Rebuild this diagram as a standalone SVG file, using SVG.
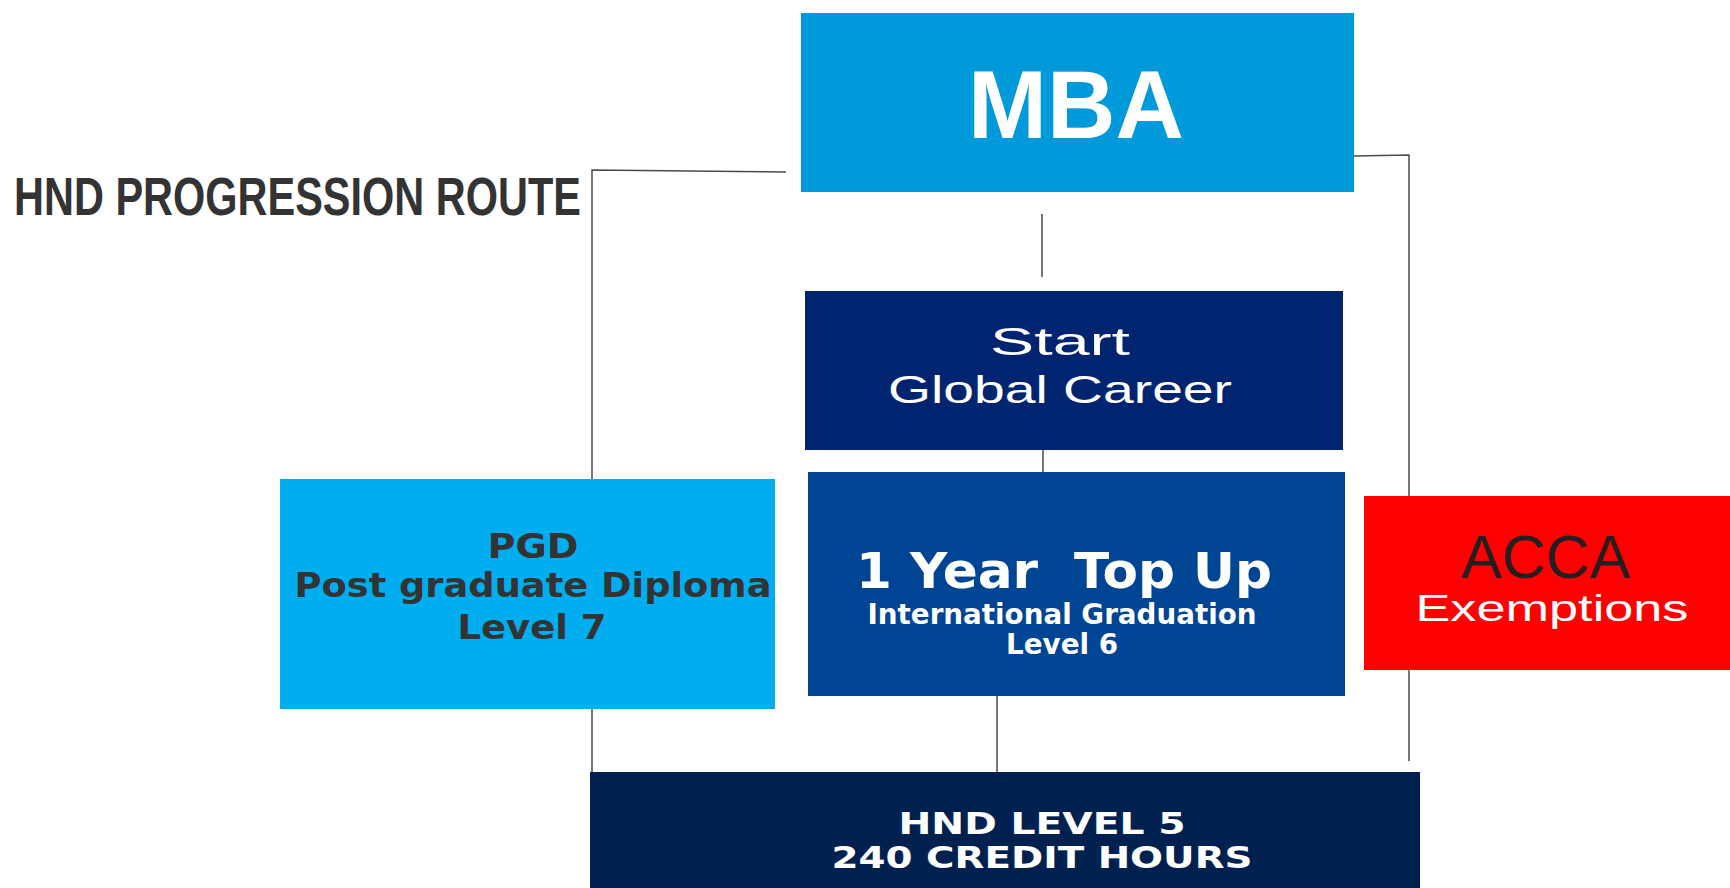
<svg xmlns="http://www.w3.org/2000/svg" width="1730" height="888" viewBox="0 0 1730 888">
<style>
.conn{stroke:#4a4a4a;stroke-width:1.5;fill:none}
.ext{font-family:"DejaVu Sans",sans-serif;font-weight:bold}
.arial{font-family:"Liberation Sans",Arial,sans-serif}
</style>
<rect width="1730" height="888" fill="#ffffff"/>
<text x="14" y="215" class="arial" font-weight="bold" font-size="53" fill="#333333" textLength="567" lengthAdjust="spacingAndGlyphs">HND PROGRESSION ROUTE</text>
<g id="connectors">
<polyline class="conn" points="786,172 592,170 592,795"/>
<polyline class="conn" points="1354,156 1409,155 1409,761"/>
<line class="conn" x1="1042" y1="214" x2="1042" y2="277"/>
<line class="conn" x1="1043" y1="428" x2="1043" y2="493"/>
<line class="conn" x1="997" y1="696" x2="997" y2="772"/>
</g>
<g id="mba">
<rect x="801" y="13" width="553" height="179" fill="#0099DA"/>
<text x="1076" y="138" text-anchor="middle" class="arial" font-weight="bold" font-size="97" fill="#ffffff" textLength="216" lengthAdjust="spacingAndGlyphs">MBA</text>
</g>
<g id="start">
<rect x="805" y="291" width="538" height="159" fill="#002470"/>
<text x="1060" y="355" text-anchor="middle" class="arial" font-size="39" fill="#ffffff" textLength="140" lengthAdjust="spacingAndGlyphs">Start</text>
<text x="1060" y="403" text-anchor="middle" class="arial" font-size="39" fill="#ffffff" textLength="344" lengthAdjust="spacingAndGlyphs">Global Career</text>
</g>
<g id="topup">
<rect x="808" y="472" width="537" height="224" fill="#004494"/>
<text x="1064" y="588" text-anchor="middle" class="ext" font-size="49" fill="#ffffff" textLength="416" lengthAdjust="spacingAndGlyphs" xml:space="preserve" style="white-space:pre">1 Year  Top Up</text>
<text x="1062" y="624" text-anchor="middle" class="ext" font-size="28" fill="#ffffff" textLength="389" lengthAdjust="spacingAndGlyphs">International Graduation</text>
<text x="1062" y="654" text-anchor="middle" class="ext" font-size="28" fill="#ffffff" textLength="112" lengthAdjust="spacingAndGlyphs">Level 6</text>
</g>
<g id="pgd">
<rect x="280" y="479" width="495" height="230" fill="#00AEEF"/>
<text x="533" y="558" text-anchor="middle" class="ext" font-size="34" fill="#333333" textLength="91" lengthAdjust="spacingAndGlyphs">PGD</text>
<text x="533" y="597" text-anchor="middle" class="ext" font-size="34" fill="#333333" textLength="477" lengthAdjust="spacingAndGlyphs">Post graduate Diploma</text>
<text x="532" y="639" text-anchor="middle" class="ext" font-size="34" fill="#333333" textLength="149" lengthAdjust="spacingAndGlyphs">Level 7</text>
</g>
<g id="acca">
<rect x="1364" y="496" width="366" height="174" fill="#FF0000"/>
<text x="1546" y="578" text-anchor="middle" class="arial" font-size="61" fill="#231F20" textLength="169" lengthAdjust="spacingAndGlyphs">ACCA</text>
<text x="1552" y="621" text-anchor="middle" class="arial" font-size="36" fill="#ffffff" textLength="273" lengthAdjust="spacingAndGlyphs">Exemptions</text>
</g>
<g id="hnd">
<rect x="590" y="772" width="830" height="116" fill="#00214F"/>
<text x="1042" y="834" text-anchor="middle" class="ext" font-size="31" fill="#ffffff" textLength="287" lengthAdjust="spacingAndGlyphs">HND LEVEL 5</text>
<text x="1042" y="868" text-anchor="middle" class="ext" font-size="31" fill="#ffffff" textLength="421" lengthAdjust="spacingAndGlyphs">240 CREDIT HOURS</text>
</g>
</svg>
